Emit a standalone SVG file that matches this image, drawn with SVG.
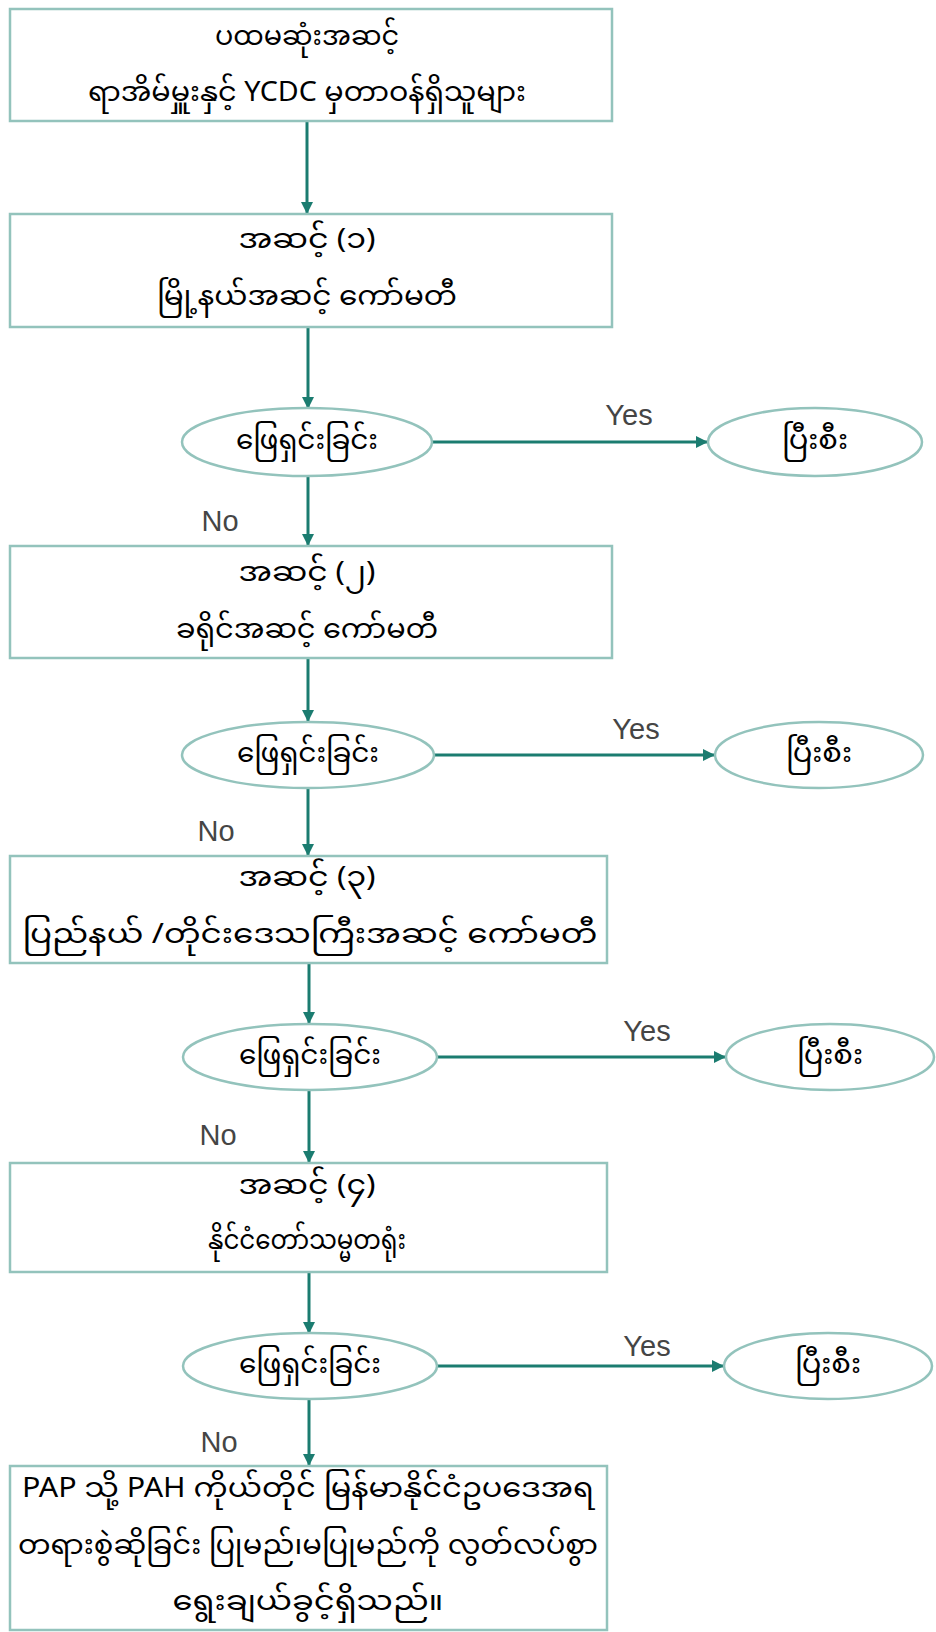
<svg xmlns="http://www.w3.org/2000/svg" width="936" height="1632" viewBox="0 0 936 1632">
<defs>
<style>
.box{fill:#ffffff;stroke:#93c3bc;stroke-width:2.5}
.ell{fill:#ffffff;stroke:#93c3bc;stroke-width:2.5}
.t{font-family:"Noto Sans Myanmar","Myanmar Text","Padauk","Noto Sans",sans-serif;font-size:27px;fill:#000000;text-anchor:middle;dominant-baseline:central}
.lbl{font-family:"Liberation Sans",Arial,sans-serif;font-size:29px;fill:#454545;text-anchor:middle;dominant-baseline:central}
.arr{stroke:#1b7c70;stroke-width:3;fill:none;marker-end:url(#ah)}
</style>
<marker id="ah" markerUnits="userSpaceOnUse" markerWidth="14" markerHeight="12" refX="12" refY="6" orient="auto">
<path d="M0,0 L12,6 L0,12 z" fill="#1b7c70"/>
</marker>
</defs>
<rect width="936" height="1632" fill="#ffffff"/>
<g id="connectors">
<line class="arr" x1="307" y1="121" x2="307" y2="214"/>
<line class="arr" x1="308" y1="327" x2="308" y2="409"/>
<line class="arr" x1="308" y1="476" x2="308" y2="546"/>
<line class="arr" x1="308" y1="658" x2="308" y2="722"/>
<line class="arr" x1="308" y1="788" x2="308" y2="856"/>
<line class="arr" x1="309" y1="963" x2="309" y2="1024"/>
<line class="arr" x1="309" y1="1090" x2="309" y2="1163"/>
<line class="arr" x1="309" y1="1272" x2="309" y2="1334"/>
<line class="arr" x1="309" y1="1399" x2="309" y2="1466"/>
<line class="arr" x1="432" y1="442" x2="708" y2="442"/>
<line class="arr" x1="434" y1="755" x2="715" y2="755"/>
<line class="arr" x1="437" y1="1057" x2="726" y2="1057"/>
<line class="arr" x1="437" y1="1366" x2="724" y2="1366"/>
<text class="lbl" x="629" y="415">Yes</text>
<text class="lbl" x="636" y="729">Yes</text>
<text class="lbl" x="647" y="1031">Yes</text>
<text class="lbl" x="647" y="1346">Yes</text>
<text class="lbl" x="220" y="521">No</text>
<text class="lbl" x="216" y="831">No</text>
<text class="lbl" x="218" y="1135">No</text>
<text class="lbl" x="219" y="1442">No</text>
</g>
<g id="n0">
<rect class="box" x="10" y="9" width="602" height="112"/>
<text class="t" x="307" y="38" textLength="184" lengthAdjust="spacingAndGlyphs">ပထမဆုံးအဆင့်</text>
<text class="t" x="307" y="94" textLength="438" lengthAdjust="spacingAndGlyphs">ရာအိမ်မှူးနှင့် YCDC မှတာဝန်ရှိသူများ</text>
</g>
<g id="n1">
<rect class="box" x="10" y="214" width="602" height="113"/>
<text class="t" x="307" y="241" textLength="137" lengthAdjust="spacingAndGlyphs">အဆင့် (၁)</text>
<text class="t" x="307" y="298" textLength="300" lengthAdjust="spacingAndGlyphs">မြို့နယ်အဆင့် ကော်မတီ</text>
</g>
<g id="d1">
<ellipse class="ell" cx="307" cy="442" rx="125" ry="34"/>
<text class="t" x="307" y="442" textLength="142" lengthAdjust="spacingAndGlyphs">ဖြေရှင်းခြင်း</text>
</g>
<g id="e1">
<ellipse class="ell" cx="815" cy="442" rx="107" ry="34"/>
<text class="t" x="815" y="442" textLength="66" lengthAdjust="spacingAndGlyphs">ပြီးစီး</text>
</g>
<g id="n2">
<rect class="box" x="10" y="546" width="602" height="112"/>
<text class="t" x="307" y="574" textLength="137" lengthAdjust="spacingAndGlyphs">အဆင့် (၂)</text>
<text class="t" x="307" y="631" textLength="262" lengthAdjust="spacingAndGlyphs">ခရိုင်အဆင့် ကော်မတီ</text>
</g>
<g id="d2">
<ellipse class="ell" cx="308" cy="755" rx="126" ry="33"/>
<text class="t" x="308" y="755" textLength="142" lengthAdjust="spacingAndGlyphs">ဖြေရှင်းခြင်း</text>
</g>
<g id="e2">
<ellipse class="ell" cx="819" cy="755" rx="104" ry="33"/>
<text class="t" x="819" y="755" textLength="66" lengthAdjust="spacingAndGlyphs">ပြီးစီး</text>
</g>
<g id="n3">
<rect class="box" x="10" y="856" width="597" height="107"/>
<text class="t" x="307" y="879" textLength="137" lengthAdjust="spacingAndGlyphs">အဆင့် (၃)</text>
<text class="t" x="310" y="936" textLength="575" lengthAdjust="spacingAndGlyphs">ပြည်နယ် /တိုင်းဒေသကြီးအဆင့် ကော်မတီ</text>
</g>
<g id="d3">
<ellipse class="ell" cx="310" cy="1057" rx="127" ry="33"/>
<text class="t" x="310" y="1057" textLength="142" lengthAdjust="spacingAndGlyphs">ဖြေရှင်းခြင်း</text>
</g>
<g id="e3">
<ellipse class="ell" cx="830" cy="1057" rx="104" ry="33"/>
<text class="t" x="830" y="1057" textLength="66" lengthAdjust="spacingAndGlyphs">ပြီးစီး</text>
</g>
<g id="n4">
<rect class="box" x="10" y="1163" width="597" height="109"/>
<text class="t" x="307" y="1187" textLength="137" lengthAdjust="spacingAndGlyphs">အဆင့် (၄)</text>
<text class="t" x="307" y="1242" textLength="198" lengthAdjust="spacingAndGlyphs">နိုင်ငံတော်သမ္မတရုံး</text>
</g>
<g id="d4">
<ellipse class="ell" cx="310" cy="1366" rx="127" ry="33"/>
<text class="t" x="310" y="1366" textLength="142" lengthAdjust="spacingAndGlyphs">ဖြေရှင်းခြင်း</text>
</g>
<g id="e4">
<ellipse class="ell" cx="828" cy="1366" rx="104" ry="33"/>
<text class="t" x="828" y="1366" textLength="66" lengthAdjust="spacingAndGlyphs">ပြီးစီး</text>
</g>
<g id="n5">
<rect class="box" x="10" y="1466" width="597" height="164"/>
<text class="t" x="308" y="1490" textLength="572" lengthAdjust="spacingAndGlyphs">PAP သို့ PAH ကိုယ်တိုင် မြန်မာနိုင်ငံဥပဒေအရ</text>
<text class="t" x="308" y="1547" textLength="580" lengthAdjust="spacingAndGlyphs">တရားစွဲဆိုခြင်း ပြုမည်၊မပြုမည်ကို လွတ်လပ်စွာ</text>
<text class="t" x="308" y="1603" textLength="271" lengthAdjust="spacingAndGlyphs">ရွေးချယ်ခွင့်ရှိသည်။</text>
</g>
</svg>
